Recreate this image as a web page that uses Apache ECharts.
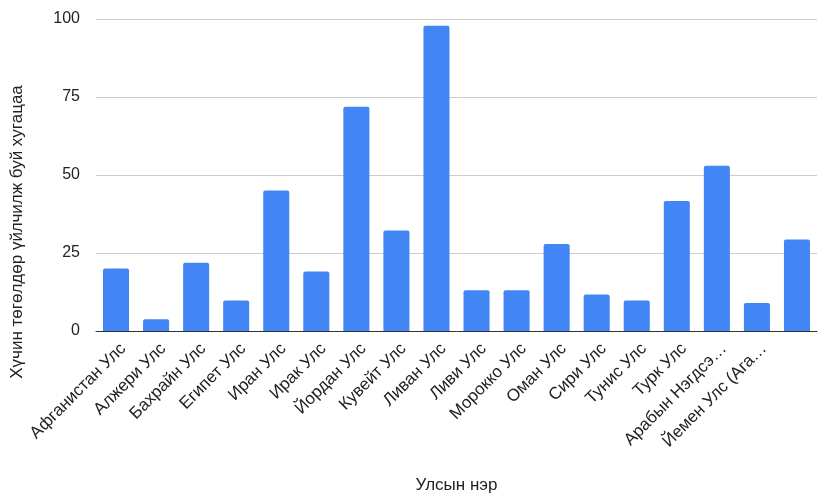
<!DOCTYPE html>
<html>
<head>
<meta charset="utf-8">
<script src="https://cdn.jsdelivr.net/npm/echarts@6/dist/echarts.min.js"></script>
<style>html,body{margin:0;padding:0;background:#fff}#c{width:820px;height:494px}</style>
</head>
<body>
<div id="c"></div>
<script>
const categories = ["Афганистан Улс","Алжери Улс","Бахрайн Улс","Египет Улс","Иран Улс","Ирак Улс","Йордан Улс","Кувейт Улс","Ливан Улс","Ливи Улс","Морокко Улс","Оман Улс","Сири Улс","Тунис Улс","Турк Улс","Арабын Нэгдсэ…","Йемен Улс (Ага…",""];
const values = [20, 3.8, 21.9, 9.8, 45, 19.1, 71.9, 32.2, 97.8, 13.1, 13.1, 27.9, 11.7, 9.8, 41.7, 53, 9, 29.3];
const yTicks = [0, 25, 50, 75, 100];
const xTitle = "Улсын нэр";
const yTitle = "Хүчин төгөлдөр үйлчилж буй хугацаа";

const font = "Arial, 'Liberation Sans', sans-serif";
const chart = echarts.init(document.getElementById('c'), null, {renderer: 'canvas'});
chart.setOption({
  animation: false,
  grid: {left: 96, right: 3, top: 19, bottom: 163, containLabel: false, outerBoundsMode: 'none'},
  xAxis: {
    type: 'category',
    data: categories,
    name: xTitle,
    nameLocation: 'middle',
    nameGap: 146,
    nameTextStyle: {fontFamily: font, fontSize: 17, color: '#222'},
    axisLine: {lineStyle: {color: '#333', width: 1}},
    axisTick: {show: false},
    axisLabel: {interval: 0, rotate: 45, margin: 8, verticalAlign: 'top', lineHeight: 20, fontFamily: font, fontSize: 17, color: '#222'}
  },
  yAxis: {
    type: 'value',
    min: yTicks[0],
    max: yTicks[yTicks.length - 1],
    interval: 25,
    name: yTitle,
    nameLocation: 'middle',
    nameGap: 70,
    nameTextStyle: {fontFamily: font, fontSize: 17, color: '#222', padding: [0, 114, 0, 0]},
    axisLine: {show: false},
    axisTick: {show: false},
    axisLabel: {margin: 16, fontFamily: font, fontSize: 16, color: '#222'},
    splitLine: {lineStyle: {color: '#cccccc', width: 1}}
  },
  series: [{
    type: 'bar',
    data: values,
    barCategoryGap: '35%',
    itemStyle: {color: '#4285F4', borderRadius: [2, 2, 0, 0]}
  }]
});
</script>
</body>
</html>
